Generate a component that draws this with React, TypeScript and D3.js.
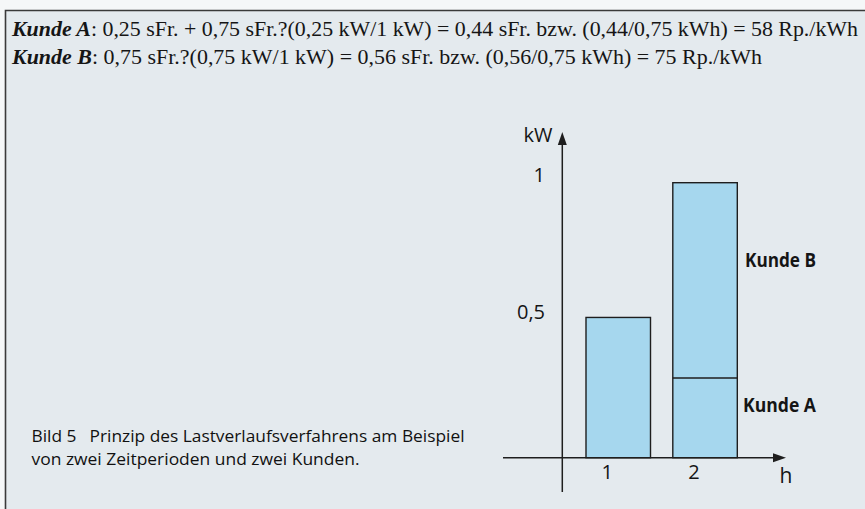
import React from "react";
import * as d3 from "d3";

// ---- data ----
const periods = ["1", "2"];
const totalLoad = [0.51, 1.0]; // kW per period (bar height)
const kundeASplit = [null, 0.29]; // Kunde A share inside period 2
const yTickValues = [0.5, 1];
const yTickLabels = ["0,5", "1"];
const headerLines = [
  { bold: "Kunde A", rest: ": 0,25 sFr. + 0,75 sFr.?(0,25 kW/1 kW) = 0,44 sFr. bzw. (0,44/0,75 kWh) = 58 Rp./kWh" },
  { bold: "Kunde B", rest: ": 0,75 sFr.?(0,75 kW/1 kW) = 0,56 sFr. bzw. (0,56/0,75 kWh) = 75 Rp./kWh" },
];
const captionLines = [
  "Bild 5\u2002 Prinzip des Lastverlaufsverfahrens am Beispiel",
  "von zwei Zeitperioden und zwei Kunden.",
];
const seriesLabels = ["Kunde B", "Kunde A"];

const W = 865;
const H = 509;

export default function App() {
  const x = d3.scaleBand<string>().domain(periods).range([586, 737.3]).paddingInner(0.257).paddingOuter(0);
  const y = d3.scaleLinear().domain([0, 1]).range([457.7, 182.7]);

  const axisX = 562.3;
  const axisY = y(0);
  const ink = "#1e1e1e";
  const fill = "#a6d7ee";
  const sans = "'Open Sans', 'Noto Sans', sans-serif";
  const serif = "'Liberation Serif', 'DejaVu Serif', serif";

  const headerWidths = [846, 750];
  const headerBaselines = [36, 64];

  return (
    <svg
      width={W}
      height={H}
      viewBox={`0 0 ${W} ${H}`}
      style={{ position: "absolute", left: 0, top: 0, display: "block" }}
    >
      <rect x={0} y={0} width={W} height={H} fill="#f5f7f8" />
      <rect x={5} y={10} width={W - 5} height={H - 10} fill="#e4eaee" />
      <path d={`M5.5,${H} V10.5 H${W}`} fill="none" stroke="#3a3a3a" strokeWidth={1.6} />

      {headerLines.map((l, i) => (
        <text
          key={i}
          x={12}
          y={headerBaselines[i]}
          fontFamily={serif}
          fontSize={22}
          fill="#151515"
          textLength={headerWidths[i]}
          lengthAdjust="spacingAndGlyphs"
        >
          <tspan fontWeight="bold" fontStyle="italic">{l.bold}</tspan>
          <tspan>{l.rest}</tspan>
        </text>
      ))}

      {captionLines.map((c, i) => (
        <text
          key={i}
          x={31.5}
          y={442 + i * 23}
          fontFamily={sans}
          fontSize={16.5}
          fill="#111"
          textLength={i === 0 ? 433 : 328}
          lengthAdjust="spacingAndGlyphs"
        >
          {c}
        </text>
      ))}

      {/* bars */}
      {periods.map((p, i) => (
        <g key={p}>
          <rect
            x={x(p)}
            y={y(totalLoad[i])}
            width={x.bandwidth()}
            height={y(0) - y(totalLoad[i])}
            fill={fill}
            stroke={ink}
            strokeWidth={1.4}
          />
          {kundeASplit[i] != null && (
            <line
              x1={x(p)}
              x2={(x(p) as number) + x.bandwidth()}
              y1={y(kundeASplit[i] as number)}
              y2={y(kundeASplit[i] as number)}
              stroke={ink}
              strokeWidth={1.4}
            />
          )}
        </g>
      ))}

      {/* axes */}
      <line x1={503} x2={776} y1={axisY} y2={axisY} stroke={ink} strokeWidth={1.5} />
      <path d={`M786,${axisY} L773,${axisY - 4.5} L773,${axisY + 4.5} Z`} fill={ink} />
      <line x1={axisX} x2={axisX} y1={492} y2={144} stroke={ink} strokeWidth={1.5} />
      <path d={`M${axisX},132 L${axisX - 4.5},145 L${axisX + 4.5},145 Z`} fill={ink} />

      {yTickValues.map((v, i) => (
        <text
          key={v}
          x={545}
          y={y(v) - 1}
          textAnchor="end"
          fontFamily={sans}
          fontSize={20}
          fill="#151515"
        >
          {yTickLabels[i]}
        </text>
      ))}
      {periods.map((p) => (
        <text
          key={p}
          x={(x(p) as number) + x.bandwidth() / 2 - 11}
          y={479}
          textAnchor="middle"
          fontFamily={sans}
          fontSize={20}
          fill="#151515"
        >
          {p}
        </text>
      ))}
      <text x={786} y={483} textAnchor="middle" fontFamily={sans} fontSize={21} fill="#151515">h</text>
      <text x={538} y={142} textAnchor="middle" fontFamily={sans} fontSize={20} fill="#151515">kW</text>

      <text x={745} y={267} fontFamily={sans} fontSize={19.5} fontWeight="bold" fill="#151515" textLength={71} lengthAdjust="spacingAndGlyphs">
        {seriesLabels[0]}
      </text>
      <text x={743} y={412} fontFamily={sans} fontSize={19.5} fontWeight="bold" fill="#151515" textLength={73} lengthAdjust="spacingAndGlyphs">
        {seriesLabels[1]}
      </text>
    </svg>
  );
}
